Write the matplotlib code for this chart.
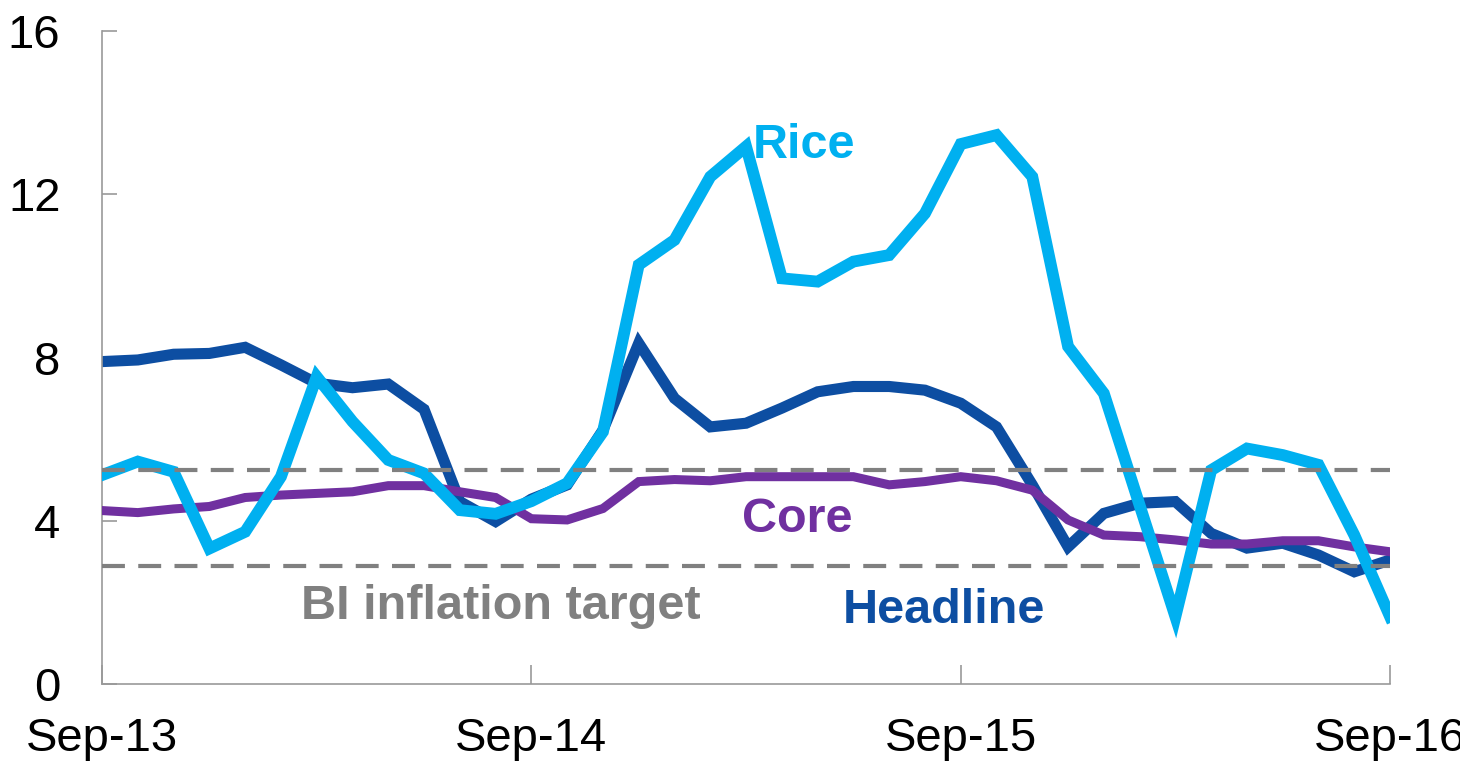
import numpy as np
import matplotlib.pyplot as plt

plt.rcParams['font.family'] = ['Liberation Sans', 'DejaVu Sans']

# monthly data, Sep-13 .. Sep-16
months = np.arange(37)
tick_pos = [0, 12, 24, 36]
tick_labels = ['Sep-13', 'Sep-14', 'Sep-15', 'Sep-16']

headline = [7.90, 7.94, 8.08, 8.10, 8.25, 7.82, 7.37, 7.26, 7.35, 6.73, 4.47, 3.98, 4.53,
            4.88, 6.22, 8.35, 7.00, 6.30, 6.39, 6.76, 7.16, 7.29, 7.29, 7.20, 6.88,
            6.30, 4.88, 3.36, 4.18, 4.43, 4.47, 3.69, 3.33, 3.45, 3.16, 2.75, 3.04]
rice = [5.12, 5.45, 5.20, 3.32, 3.73, 5.08, 7.53, 6.43, 5.49, 5.16, 4.26, 4.17, 4.48,
        4.92, 6.18, 10.27, 10.88, 12.43, 13.17, 9.94, 9.86, 10.35, 10.51, 11.53, 13.23,
        13.45, 12.43, 8.27, 7.12, 4.38, 1.65, 5.24, 5.77, 5.61, 5.37, 3.65, 1.65]
core = [4.25, 4.20, 4.29, 4.35, 4.57, 4.63, 4.67, 4.71, 4.86, 4.86, 4.71, 4.57, 4.05,
        4.02, 4.30, 4.96, 5.01, 4.98, 5.08, 5.08, 5.08, 5.08, 4.88, 4.96, 5.08,
        4.98, 4.75, 4.02, 3.65, 3.61, 3.53, 3.43, 3.43, 3.51, 3.51, 3.36, 3.24]
target_upper = 5.25
target_lower = 2.88

fig = plt.figure(figsize=(14.6, 7.64), dpi=100)
ax = fig.add_axes([0.0699, 0.1047, 0.8822, 0.8547])

ax.plot(months, headline, color='#0D4EA2', lw=8, solid_joinstyle='miter', zorder=2)
ax.plot(months, core, color='#7030A0', lw=6.5, solid_joinstyle='miter', zorder=3)
ax.plot(months, rice, color='#00B0F0', lw=8.5, solid_joinstyle='miter', zorder=4)
ax.axhline(target_upper, color='#808080', lw=3, dashes=(5.5, 3.2), zorder=5)
ax.axhline(target_lower, color='#808080', lw=3, dashes=(5.5, 3.2), zorder=5)

lbl = dict(fontsize=35, fontweight='bold', va='center')
ax.text(18.2, 13.2, 'Rice', color='#00B0F0', **lbl)
ax.text(17.9, 4.02, 'Core', color='#7030A0', **lbl)
ax.text(5.55, 1.89, 'BI inflation target', color='#808080', **lbl)
ax.text(20.7, 1.79, 'Headline', color='#0D4EA2', **lbl)

ax.set_xlim(0, 36)
ax.set_ylim(0, 16)
ax.set_yticks([0, 4, 8, 12, 16])
ax.set_xticks(tick_pos)
ax.set_xticklabels(tick_labels)

for side in ['top', 'right']:
    ax.spines[side].set_visible(False)
for side in ['left', 'bottom']:
    ax.spines[side].set_color('#999999')
    ax.spines[side].set_linewidth(1.2)

ax.tick_params(axis='y', direction='in', length=11, width=1.2, color='#999999',
               labelsize=34, pad=30)
ax.tick_params(axis='x', direction='in', length=14, width=1.2, color='#999999',
               labelsize=34, pad=24)

fig.savefig('out.png', dpi=100)
